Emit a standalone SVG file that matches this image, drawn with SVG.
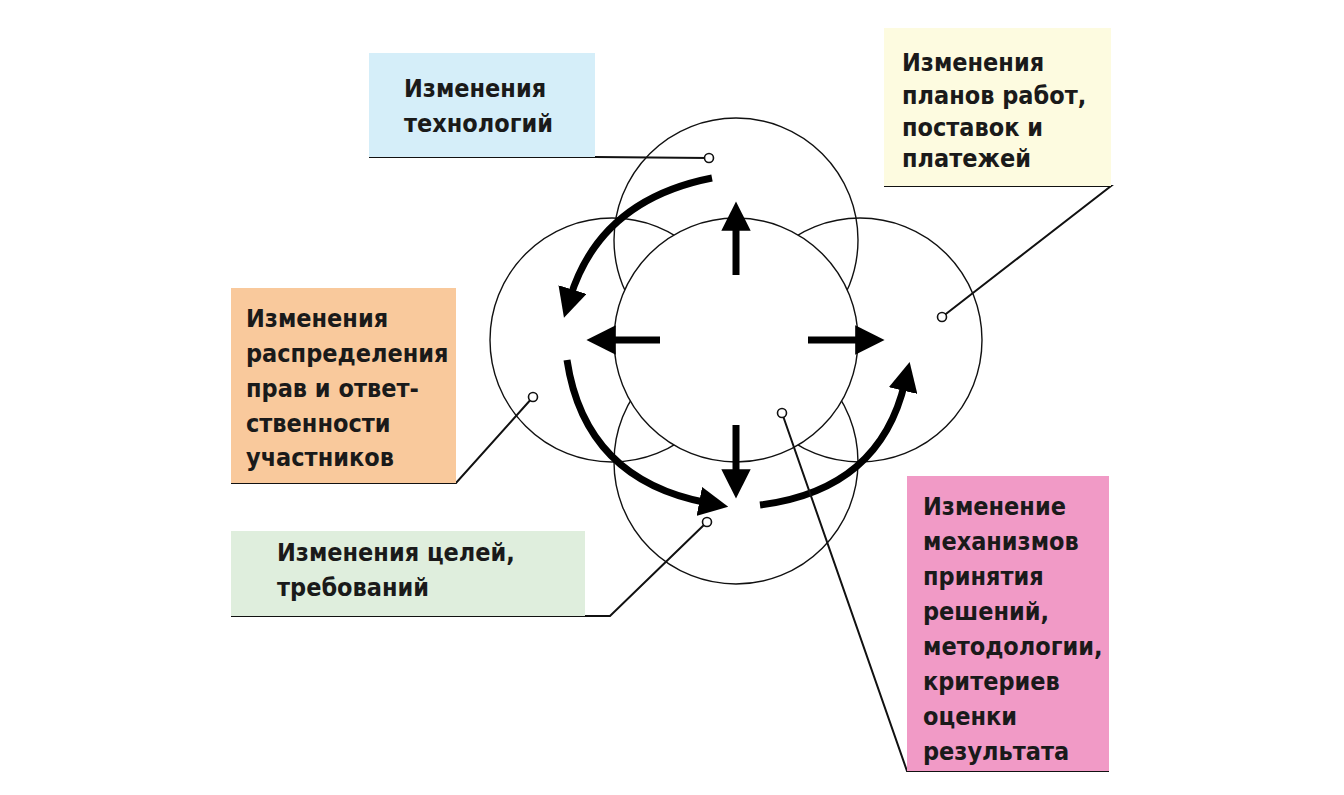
<svg xmlns="http://www.w3.org/2000/svg" width="1344" height="795" viewBox="0 0 1344 795">
<defs>
<style>
.c{fill:none;stroke:#111;stroke-width:1.4}
.w{fill:#fff;stroke:#111;stroke-width:1.4}
.l{fill:none;stroke:#111;stroke-width:2}
.a{fill:none;stroke:#000;stroke-width:7}
.d{fill:#fff;stroke:#111;stroke-width:1.6}
.t{font-family:"DejaVu Sans Condensed","Liberation Sans",sans-serif;font-weight:bold;font-size:25px;fill:#1a1a1a}
</style>
<marker id="h" viewBox="0 0 10 10" refX="3" refY="5" markerWidth="4.2" markerHeight="4.2" orient="auto" markerUnits="strokeWidth">
<path d="M0,0 L10,5 L0,10 Z" fill="#000"/>
</marker>
</defs>
<rect width="1344" height="795" fill="#fff"/>
<g id="circles">
<circle class="c" cx="736" cy="240" r="122"/>
<circle class="c" cx="612" cy="340" r="122"/>
<circle class="c" cx="860" cy="340" r="122"/>
<circle class="c" cx="736" cy="462" r="122"/>
<circle class="w" cx="736" cy="340" r="122"/>
</g>
<g id="connectors">
<path class="a" d="M736,275 V222" marker-end="url(#h)"/>
<path class="a" d="M660,340 H607" marker-end="url(#h)"/>
<path class="a" d="M808,340 H864" marker-end="url(#h)"/>
<path class="a" d="M736,425 V478" marker-end="url(#h)"/>
<path class="a" d="M712,178 Q600,200 570,298" marker-end="url(#h)"/>
<path class="a" d="M567,360 Q585,480 708,503" marker-end="url(#h)"/>
<path class="a" d="M760,505 Q880,490 905,382" marker-end="url(#h)"/>
<path class="l" d="M369,157 H595 L709,158"/>
<path class="l" d="M884,186 H1111 L942,317"/>
<path class="l" d="M231,483 H456 L533,397"/>
<path class="l" d="M231,616 H610 L707,522"/>
<path class="l" d="M1109,771 H907 L782,413"/>
<circle class="d" cx="709" cy="158" r="4.5"/>
<circle class="d" cx="942" cy="317" r="4.5"/>
<circle class="d" cx="533" cy="397" r="4.5"/>
<circle class="d" cx="707" cy="522" r="4.5"/>
<circle class="d" cx="782" cy="413" r="4.5"/>
</g>
<g id="n1"><rect x="369" y="53" width="226" height="104" fill="#d5eef9"/>
<text class="t" x="404" y="97">Изменения</text><text class="t" x="404" y="132">технологий</text></g>
<g id="n2"><rect x="884" y="28" width="227" height="158" fill="#fdfbe0"/>
<text class="t" x="902" y="71">Изменения</text><text class="t" x="902" y="104">планов работ,</text><text class="t" x="902" y="136">поставок и</text><text class="t" x="902" y="167">платежей</text></g>
<g id="n3"><rect x="231" y="288" width="225" height="195" fill="#f9c99c"/>
<text class="t" x="246" y="327">Изменения</text><text class="t" x="246" y="362">распределения</text><text class="t" x="246" y="397">прав и ответ-</text><text class="t" x="246" y="432">ственности</text><text class="t" x="246" y="466">участников</text></g>
<g id="n4"><rect x="231" y="531" width="354" height="85" fill="#dfeedd"/>
<text class="t" x="277" y="561">Изменения целей,</text><text class="t" x="277" y="596">требований</text></g>
<g id="n5"><rect x="907" y="476" width="202" height="295" fill="#f19ac6"/>
<text class="t" x="923" y="515">Изменение</text><text class="t" x="923" y="550">механизмов</text><text class="t" x="923" y="585">принятия</text><text class="t" x="923" y="620">решений,</text><text class="t" x="923" y="655">методологии,</text><text class="t" x="923" y="690">критериев</text><text class="t" x="923" y="725">оценки</text><text class="t" x="923" y="760">результата</text></g>
</svg>
